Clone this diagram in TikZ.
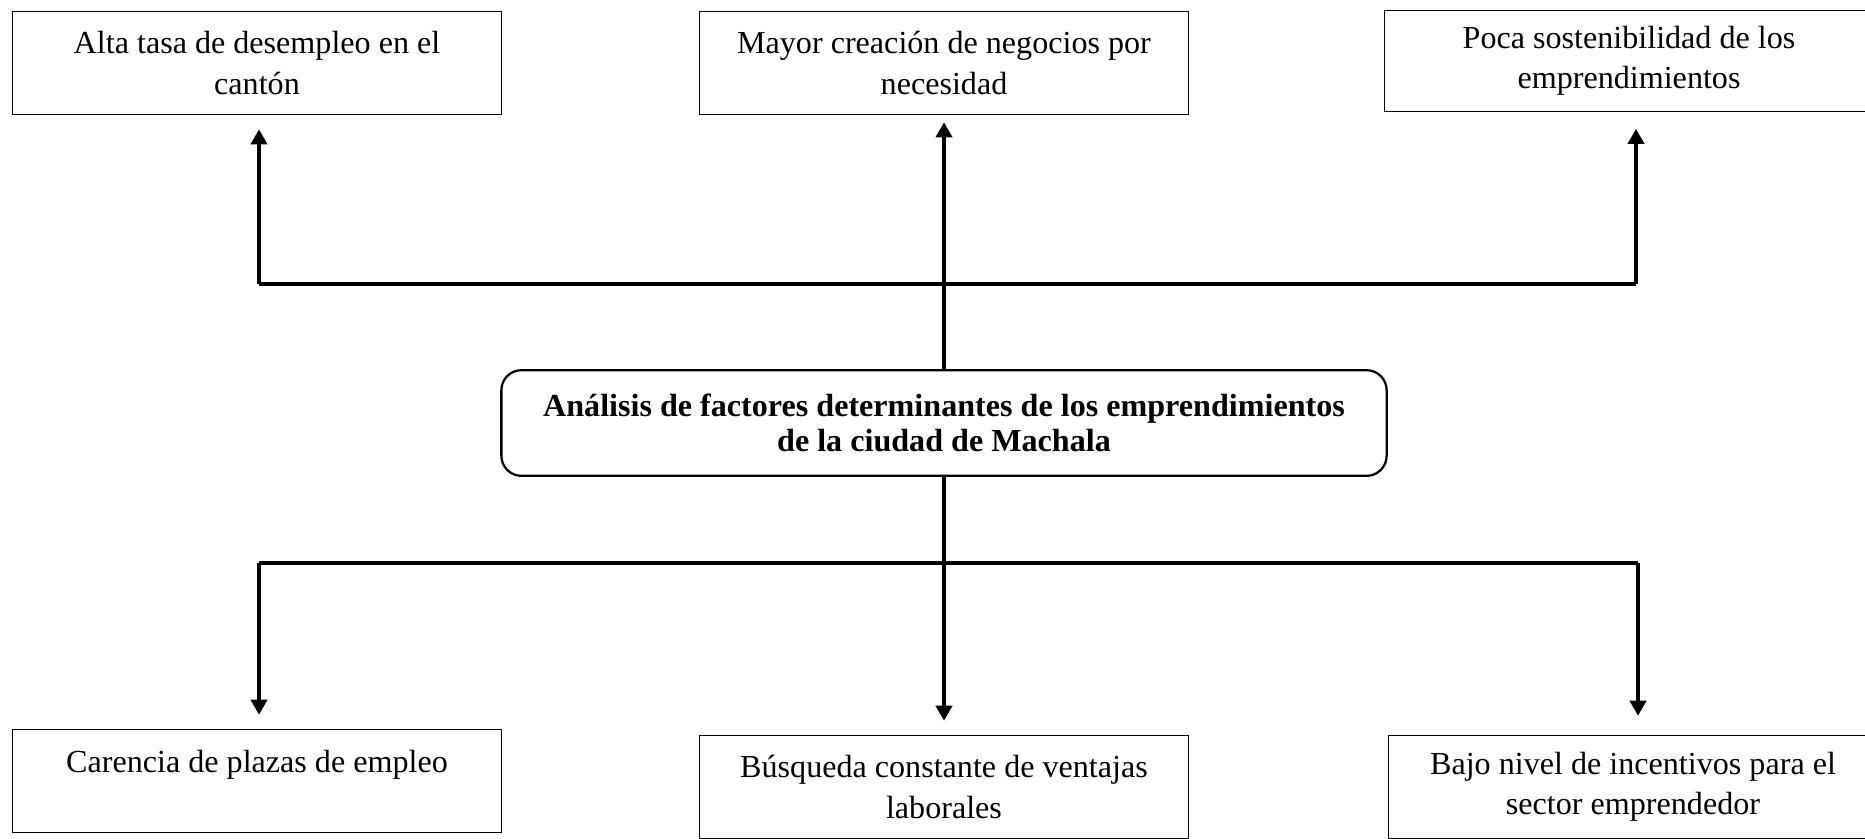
\documentclass[tikz,border=0pt]{standalone}
\usepackage{fontspec}
\setmainfont{Liberation Serif}
\usetikzlibrary{arrows.meta}

\tikzset{
	efecto/.style={draw, line width=0.5pt, minimum width=6.85cm, minimum height=1.45cm, align=center, inner sep=2pt, font=\fontsize{12.8}{16}\selectfont},
	central/.style={draw, line width=0.9pt, rounded corners=8pt, minimum width=12.4cm, minimum height=1.48cm, align=center, font=\fontsize{12.8}{14}\selectfont\bfseries},
	linea/.style={line width=1.3pt},
	flecha/.style={line width=1.3pt, -{Triangle[width=6.5pt,length=6pt]}}
}

\begin{document}
\begin{tikzpicture}[x=0.014cm, y=-0.014cm]
			\useasboundingbox (0,0) rectangle (1865,839);
			% Nodes
			\node[efecto] (arriba1) at (257,63) {Alta tasa de desempleo en el\\cantón};
			\node[efecto] (arriba2) at (944,63) {Mayor creación de negocios por\\necesidad};
			\node[efecto, minimum height=1.41cm] (arriba3) at (1629,61) {Poca sostenibilidad de los\\emprendimientos};
			\node[central] (centro) at (944,423) {Análisis de factores determinantes de los emprendimientos\\de la ciudad de Machala};
			\node[efecto] (abajo1) at (257,781) {Carencia de plazas de empleo\\\mbox{}};
			\node[efecto] (abajo2) at (944,787) {Búsqueda constante de ventajas\\laborales};
			\node[efecto] (abajo3) at (1633,787) {Bajo nivel de incentivos para el\\sector emprendedor};
			% Junctions
			\coordinate (s1) at (259,284);
			\coordinate (s2) at (944,284);
			\coordinate (s3) at (1636,284);
			\coordinate (b1) at (259,563);
			\coordinate (b2) at (944,563);
			\coordinate (b3) at (1638,563);
			% Upper branch
			\draw[linea] (centro.north) -- (s2);
			\draw[linea] (s1) -- (s3);
			\draw[flecha, shorten >=14pt*0.397] (s1) -- (s1 |- arriba1.south);
			\draw[flecha, shorten >=7pt*0.397] (s2) -- (arriba2.south);
			\draw[flecha, shorten >=17pt*0.397] (s3) -- (s3 |- arriba3.south);
			% Lower branch
			\draw[flecha, shorten >=14pt*0.397] (centro.south) -- (abajo2.north);
			\draw[linea] (b1) -- (b3);
			\draw[flecha, shorten >=14pt*0.397] (b1) -- (b1 |- abajo1.north);
			\draw[flecha, shorten >=19pt*0.397] (b3) -- (b3 |- abajo3.north);
		\end{tikzpicture}
\end{document}
